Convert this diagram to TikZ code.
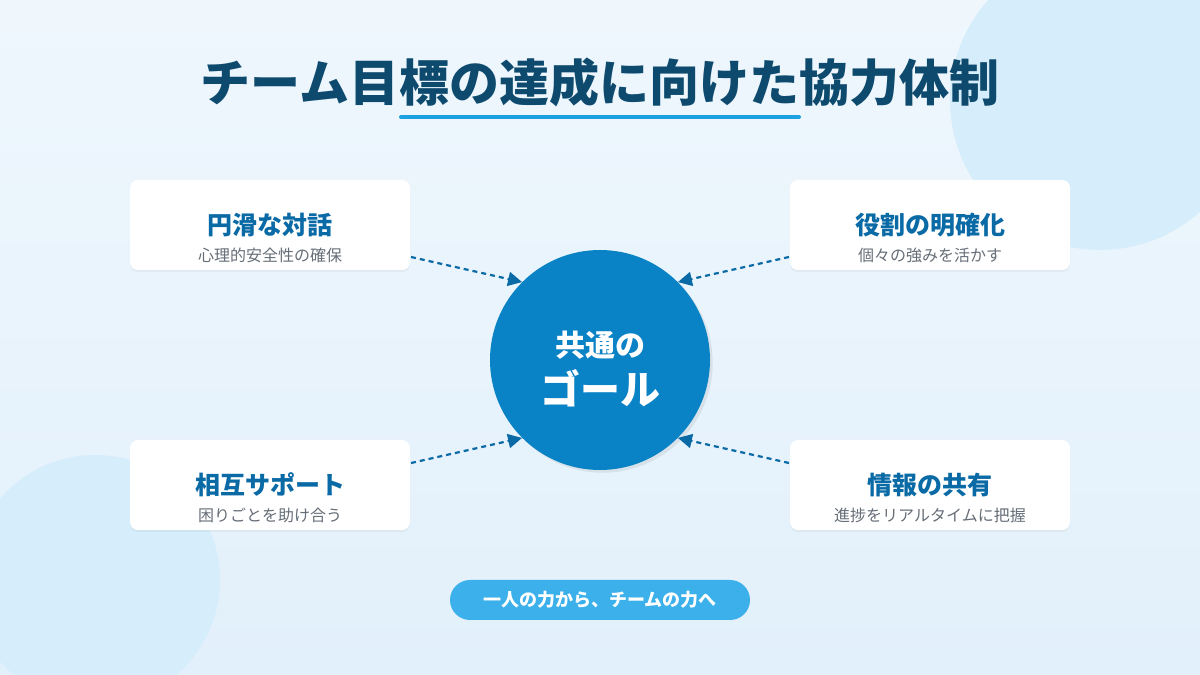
\documentclass[tikz,border=0pt]{standalone}
\usepackage{fontspec}
\setmainfont{Noto Sans CJK JP}
\usetikzlibrary{arrows.meta,positioning,shadows}
\definecolor{bgtop}{HTML}{EFF7FD}
\definecolor{bgbot}{HTML}{E2F0FB}
\definecolor{blob}{HTML}{D6EDFB}
\definecolor{navy}{HTML}{0D4A6E}
\definecolor{goal}{HTML}{0A82C6}
\definecolor{boxtitle}{HTML}{0A6AA6}
\definecolor{boxsub}{HTML}{666E78}
\definecolor{lineblue}{HTML}{1BA1E2}
\definecolor{pill}{HTML}{3BB0EA}
\tikzset{
    card/.style={fill=white, rounded corners=8pt, minimum width=280pt, minimum height=90pt,
        drop shadow={opacity=0.08, shadow xshift=0pt, shadow yshift=-2pt}},
    cardtitle/.style={font=\bfseries\fontsize{25}{28}\selectfont, text=boxtitle},
    cardsub/.style={font=\fontsize{16}{18}\selectfont, text=boxsub},
    link/.style={draw=boxtitle, line width=2.2pt, dash pattern=on 5pt off 4pt,
        -{Triangle[length=14pt,width=14pt]}}
}
\begin{document}
\begin{tikzpicture}[x=1pt,y=1pt]
    \useasboundingbox (0,0) rectangle (1200,675);
    \shade[top color=bgtop, bottom color=bgbot] (0,0) rectangle (1200,675);
    \begin{scope}
        \clip (0,0) rectangle (1200,675);
        \fill[blob] (1100,575) circle (150);
        \fill[blob] (95,95) circle (125);
    \end{scope}

    % title
    \node[font=\bfseries\fontsize{50}{56}\selectfont, text=navy] (title) at (600,593) {チーム目標の達成に向けた協力体制};
    \draw[lineblue, line width=4pt, line cap=round] (401,558) -- (799,558);

    % goal
    \node[circle, fill=goal, minimum size=220pt, drop shadow={opacity=0.15}] (goal) at (600,315) {};
    \node[text=white, font=\bfseries\fontsize{30}{34}\selectfont] (goalA) at (600,330) {共通の};
    \node[text=white, font=\bfseries\fontsize{40}{44}\selectfont] (goalB) at (600,287) {ゴール};

    % cards
    \node[card] (tl) at (270,450) {};
    \node[card] (tr) at (930,450) {};
    \node[card] (bl) at (270,190) {};
    \node[card] (br) at (930,190) {};

    \node[cardtitle] at (270,450) {円滑な対話};
    \node[cardsub] at (270,420) {心理的安全性の確保};
    \node[cardtitle] at (930,450) {役割の明確化};
    \node[cardsub] at (930,420) {個々の強みを活かす};
    \node[cardtitle] at (270,190) {相互サポート};
    \node[cardsub] at (270,160) {困りごとを助け合う};
    \node[cardtitle] at (930,190) {情報の共有};
    \node[cardsub] at (930,160) {進捗をリアルタイムに把握};

    % links
    \coordinate (tlA) at (411,418);
    \coordinate (trA) at (789,418);
    \coordinate (blA) at (411,212);
    \coordinate (brA) at (789,212);
    \draw[link] (tlA) -- (goal.135);
    \draw[link] (trA) -- (goal.45);
    \draw[link] (blA) -- (goal.225);
    \draw[link] (brA) -- (goal.315);

    % tagline
    \node[fill=pill, rounded corners=20pt, minimum width=300pt, minimum height=40pt,
        text=white, font=\bfseries\fontsize{18}{20}\selectfont] (tag) at (600,75) {一人の力から、チームの力へ};
\end{tikzpicture}
\end{document}
